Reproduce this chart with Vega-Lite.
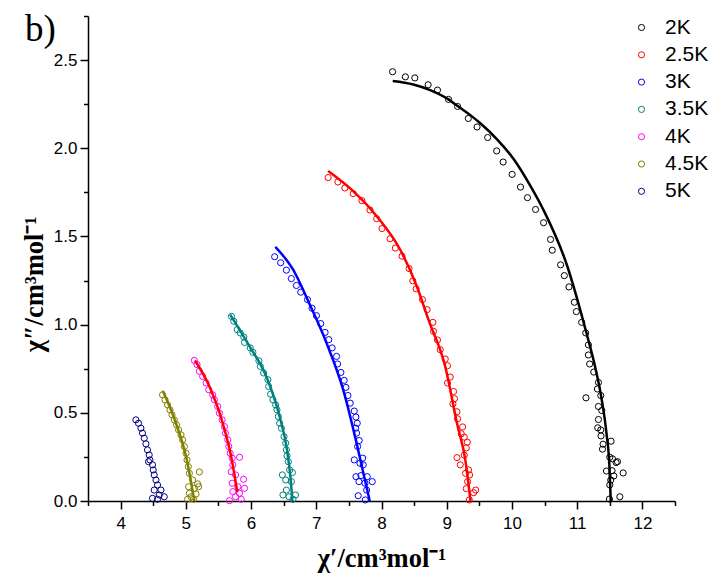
{
  "$schema": "https://vega.github.io/schema/vega-lite/v6.json",
  "width": 587,
  "height": 485,
  "autosize": {"type": "none"},
  "padding": {"left": 88, "top": 16, "right": 37, "bottom": 72},
  "background": "white",
  "config": {"view": {"stroke": null}},
  "title": {"text": "b)", "anchor": "start", "frame": "group", "font": "Liberation Serif", "fontSize": 37, "fontWeight": "normal", "color": "black", "dx": -63, "offset": 0, "baseline": "alphabetic", "dy": 63},
  "datasets": {
    "pts": [
      {"T":"2K","x":8.17,"y":2.434},{"T":"2K","x":8.366,"y":2.405},{"T":"2K","x":8.511,"y":2.399},{"T":"2K","x":8.715,"y":2.36},{"T":"2K","x":8.858,"y":2.33},{"T":"2K","x":9.028,"y":2.277},{"T":"2K","x":9.166,"y":2.237},{"T":"2K","x":9.331,"y":2.169},{"T":"2K","x":9.465,"y":2.121},{"T":"2K","x":9.628,"y":2.061},{"T":"2K","x":9.766,"y":1.985},{"T":"2K","x":9.865,"y":1.922},{"T":"2K","x":10.003,"y":1.852},{"T":"2K","x":10.131,"y":1.78},{"T":"2K","x":10.238,"y":1.72},{"T":"2K","x":10.362,"y":1.653},{"T":"2K","x":10.485,"y":1.578},{"T":"2K","x":10.592,"y":1.483},{"T":"2K","x":10.618,"y":1.422},{"T":"2K","x":10.746,"y":1.339},{"T":"2K","x":10.803,"y":1.278},{"T":"2K","x":10.874,"y":1.214},{"T":"2K","x":10.957,"y":1.127},{"T":"2K","x":10.988,"y":1.074},{"T":"2K","x":11.069,"y":1.013},{"T":"2K","x":11.131,"y":0.953},{"T":"2K","x":11.172,"y":0.885},{"T":"2K","x":11.172,"y":0.828},{"T":"2K","x":11.192,"y":0.777},{"T":"2K","x":11.254,"y":0.731},{"T":"2K","x":11.326,"y":0.672},{"T":"2K","x":11.311,"y":0.635},{"T":"2K","x":11.362,"y":0.598},{"T":"2K","x":11.135,"y":0.585},{"T":"2K","x":11.326,"y":0.536},{"T":"2K","x":11.377,"y":0.513},{"T":"2K","x":11.326,"y":0.462},{"T":"2K","x":11.315,"y":0.415},{"T":"2K","x":11.362,"y":0.403},{"T":"2K","x":11.366,"y":0.369},{"T":"2K","x":11.397,"y":0.322},{"T":"2K","x":11.388,"y":0.294},{"T":"2K","x":11.52,"y":0.339},{"T":"2K","x":11.5,"y":0.248},{"T":"2K","x":11.542,"y":0.239},{"T":"2K","x":11.618,"y":0.223},{"T":"2K","x":11.597,"y":0.218},{"T":"2K","x":11.449,"y":0.17},{"T":"2K","x":11.535,"y":0.172},{"T":"2K","x":11.562,"y":0.142},{"T":"2K","x":11.705,"y":0.159},{"T":"2K","x":11.515,"y":0.119},{"T":"2K","x":11.5,"y":0.091},{"T":"2K","x":11.495,"y":0.011},{"T":"2K","x":11.654,"y":0.024},
      {"T":"2.5K","x":7.182,"y":1.834},{"T":"2.5K","x":7.331,"y":1.809},{"T":"2.5K","x":7.438,"y":1.775},{"T":"2.5K","x":7.566,"y":1.743},{"T":"2.5K","x":7.7,"y":1.703},{"T":"2.5K","x":7.823,"y":1.65},{"T":"2.5K","x":7.926,"y":1.601},{"T":"2.5K","x":8.008,"y":1.545},{"T":"2.5K","x":8.131,"y":1.487},{"T":"2.5K","x":8.212,"y":1.434},{"T":"2.5K","x":8.315,"y":1.388},{"T":"2.5K","x":8.423,"y":1.318},{"T":"2.5K","x":8.48,"y":1.248},{"T":"2.5K","x":8.531,"y":1.203},{"T":"2.5K","x":8.628,"y":1.142},{"T":"2.5K","x":8.7,"y":1.085},{"T":"2.5K","x":8.788,"y":1.013},{"T":"2.5K","x":8.797,"y":0.962},{"T":"2.5K","x":8.858,"y":0.913},{"T":"2.5K","x":8.9,"y":0.858},{"T":"2.5K","x":8.977,"y":0.805},{"T":"2.5K","x":9.012,"y":0.767},{"T":"2.5K","x":9.054,"y":0.703},{"T":"2.5K","x":9.012,"y":0.669},{"T":"2.5K","x":9.105,"y":0.621},{"T":"2.5K","x":9.12,"y":0.58},{"T":"2.5K","x":9.095,"y":0.551},{"T":"2.5K","x":9.157,"y":0.506},{"T":"2.5K","x":9.166,"y":0.466},{"T":"2.5K","x":9.243,"y":0.42},{"T":"2.5K","x":9.223,"y":0.381},{"T":"2.5K","x":9.269,"y":0.362},{"T":"2.5K","x":9.315,"y":0.334},{"T":"2.5K","x":9.3,"y":0.301},{"T":"2.5K","x":9.269,"y":0.26},{"T":"2.5K","x":9.157,"y":0.246},{"T":"2.5K","x":9.208,"y":0.205},{"T":"2.5K","x":9.289,"y":0.157},{"T":"2.5K","x":9.335,"y":0.176},{"T":"2.5K","x":9.351,"y":0.148},{"T":"2.5K","x":9.32,"y":0.11},{"T":"2.5K","x":9.3,"y":0.07},{"T":"2.5K","x":9.412,"y":0.047},{"T":"2.5K","x":9.443,"y":0.062},{"T":"2.5K","x":9.346,"y":0.006},
      {"T":"3K","x":6.362,"y":1.385},{"T":"3K","x":6.454,"y":1.351},{"T":"3K","x":6.542,"y":1.309},{"T":"3K","x":6.618,"y":1.261},{"T":"3K","x":6.695,"y":1.222},{"T":"3K","x":6.762,"y":1.184},{"T":"3K","x":6.865,"y":1.142},{"T":"3K","x":6.935,"y":1.093},{"T":"3K","x":7.003,"y":1.051},{"T":"3K","x":7.069,"y":1.006},{"T":"3K","x":7.135,"y":0.956},{"T":"3K","x":7.192,"y":0.915},{"T":"3K","x":7.243,"y":0.868},{"T":"3K","x":7.311,"y":0.82},{"T":"3K","x":7.326,"y":0.777},{"T":"3K","x":7.377,"y":0.729},{"T":"3K","x":7.428,"y":0.684},{"T":"3K","x":7.454,"y":0.644},{"T":"3K","x":7.485,"y":0.598},{"T":"3K","x":7.52,"y":0.555},{"T":"3K","x":7.582,"y":0.51},{"T":"3K","x":7.608,"y":0.476},{"T":"3K","x":7.628,"y":0.441},{"T":"3K","x":7.603,"y":0.413},{"T":"3K","x":7.618,"y":0.385},{"T":"3K","x":7.658,"y":0.343},{"T":"3K","x":7.634,"y":0.309},{"T":"3K","x":7.582,"y":0.233},{"T":"3K","x":7.711,"y":0.243},{"T":"3K","x":7.669,"y":0.214},{"T":"3K","x":7.72,"y":0.205},{"T":"3K","x":7.608,"y":0.138},{"T":"3K","x":7.685,"y":0.144},{"T":"3K","x":7.782,"y":0.138},{"T":"3K","x":7.654,"y":0.11},{"T":"3K","x":7.746,"y":0.101},{"T":"3K","x":7.858,"y":0.11},{"T":"3K","x":7.772,"y":0.062},{"T":"3K","x":7.643,"y":0.03},{"T":"3K","x":7.751,"y":0.006},
      {"T":"3.5K","x":5.7,"y":1.047},{"T":"3.5K","x":5.735,"y":1.019},{"T":"3.5K","x":5.788,"y":0.972},{"T":"3.5K","x":5.834,"y":0.953},{"T":"3.5K","x":5.889,"y":0.93},{"T":"3.5K","x":5.9,"y":0.899},{"T":"3.5K","x":5.988,"y":0.868},{"T":"3.5K","x":6.028,"y":0.843},{"T":"3.5K","x":6.12,"y":0.795},{"T":"3.5K","x":6.142,"y":0.763},{"T":"3.5K","x":6.192,"y":0.726},{"T":"3.5K","x":6.258,"y":0.688},{"T":"3.5K","x":6.269,"y":0.649},{"T":"3.5K","x":6.3,"y":0.606},{"T":"3.5K","x":6.335,"y":0.574},{"T":"3.5K","x":6.377,"y":0.545},{"T":"3.5K","x":6.397,"y":0.517},{"T":"3.5K","x":6.418,"y":0.479},{"T":"3.5K","x":6.438,"y":0.441},{"T":"3.5K","x":6.465,"y":0.413},{"T":"3.5K","x":6.505,"y":0.365},{"T":"3.5K","x":6.531,"y":0.328},{"T":"3.5K","x":6.542,"y":0.29},{"T":"3.5K","x":6.551,"y":0.256},{"T":"3.5K","x":6.572,"y":0.223},{"T":"3.5K","x":6.48,"y":0.148},{"T":"3.5K","x":6.592,"y":0.176},{"T":"3.5K","x":6.634,"y":0.161},{"T":"3.5K","x":6.531,"y":0.119},{"T":"3.5K","x":6.618,"y":0.11},{"T":"3.5K","x":6.542,"y":0.062},{"T":"3.5K","x":6.489,"y":0.034},{"T":"3.5K","x":6.582,"y":0.024},{"T":"3.5K","x":6.68,"y":0.034},{"T":"3.5K","x":6.643,"y":0.01},
      {"T":"4K","x":5.131,"y":0.797},{"T":"4K","x":5.172,"y":0.773},{"T":"4K","x":5.208,"y":0.735},{"T":"4K","x":5.258,"y":0.706},{"T":"4K","x":5.311,"y":0.669},{"T":"4K","x":5.351,"y":0.631},{"T":"4K","x":5.412,"y":0.602},{"T":"4K","x":5.438,"y":0.574},{"T":"4K","x":5.489,"y":0.536},{"T":"4K","x":5.515,"y":0.498},{"T":"4K","x":5.557,"y":0.46},{"T":"4K","x":5.592,"y":0.422},{"T":"4K","x":5.608,"y":0.385},{"T":"4K","x":5.643,"y":0.347},{"T":"4K","x":5.658,"y":0.309},{"T":"4K","x":5.68,"y":0.271},{"T":"4K","x":5.711,"y":0.243},{"T":"4K","x":5.823,"y":0.248},{"T":"4K","x":5.72,"y":0.205},{"T":"4K","x":5.695,"y":0.166},{"T":"4K","x":5.762,"y":0.148},{"T":"4K","x":5.885,"y":0.123},{"T":"4K","x":5.711,"y":0.101},{"T":"4K","x":5.797,"y":0.081},{"T":"4K","x":5.9,"y":0.072},{"T":"4K","x":5.72,"y":0.053},{"T":"4K","x":5.823,"y":0.044},{"T":"4K","x":5.762,"y":0.024},{"T":"4K","x":5.849,"y":0.01},{"T":"4K","x":5.669,"y":0.002},
      {"T":"4.5K","x":4.643,"y":0.602},{"T":"4.5K","x":4.68,"y":0.574},{"T":"4.5K","x":4.72,"y":0.545},{"T":"4.5K","x":4.757,"y":0.517},{"T":"4.5K","x":4.788,"y":0.489},{"T":"4.5K","x":4.823,"y":0.46},{"T":"4.5K","x":4.858,"y":0.432},{"T":"4.5K","x":4.889,"y":0.403},{"T":"4.5K","x":4.926,"y":0.375},{"T":"4.5K","x":4.951,"y":0.347},{"T":"4.5K","x":4.977,"y":0.309},{"T":"4.5K","x":5.003,"y":0.271},{"T":"4.5K","x":5.018,"y":0.233},{"T":"4.5K","x":5.038,"y":0.195},{"T":"4.5K","x":5.208,"y":0.165},{"T":"4.5K","x":5.054,"y":0.157},{"T":"4.5K","x":5.105,"y":0.119},{"T":"4.5K","x":5.182,"y":0.097},{"T":"4.5K","x":5.043,"y":0.081},{"T":"4.5K","x":5.131,"y":0.072},{"T":"4.5K","x":5.197,"y":0.081},{"T":"4.5K","x":5.054,"y":0.044},{"T":"4.5K","x":5.157,"y":0.04},{"T":"4.5K","x":5.08,"y":0.024},{"T":"4.5K","x":5.12,"y":0.01},{"T":"4.5K","x":5.028,"y":0.01},
      {"T":"5K","x":4.234,"y":0.46},{"T":"5K","x":4.274,"y":0.441},{"T":"5K","x":4.311,"y":0.413},{"T":"5K","x":4.335,"y":0.385},{"T":"5K","x":4.362,"y":0.356},{"T":"5K","x":4.388,"y":0.324},{"T":"5K","x":4.412,"y":0.29},{"T":"5K","x":4.438,"y":0.261},{"T":"5K","x":4.449,"y":0.233},{"T":"5K","x":4.428,"y":0.223},{"T":"5K","x":4.489,"y":0.205},{"T":"5K","x":4.5,"y":0.176},{"T":"5K","x":4.515,"y":0.148},{"T":"5K","x":4.542,"y":0.119},{"T":"5K","x":4.566,"y":0.091},{"T":"5K","x":4.515,"y":0.062},{"T":"5K","x":4.618,"y":0.062},{"T":"5K","x":4.592,"y":0.034},{"T":"5K","x":4.489,"y":0.015},{"T":"5K","x":4.669,"y":0.024},{"T":"5K","x":4.566,"y":0.01}
    ],
    "fits": [
      {"T":"2K","x":8.172,"y":2.382},{"T":"2K","x":8.489,"y":2.362},{"T":"2K","x":8.746,"y":2.33},{"T":"2K","x":9.028,"y":2.277},{"T":"2K","x":9.166,"y":2.24},{"T":"2K","x":9.362,"y":2.188},{"T":"2K","x":9.515,"y":2.142},{"T":"2K","x":9.772,"y":2.051},{"T":"2K","x":10.028,"y":1.938},{"T":"2K","x":10.285,"y":1.786},{"T":"2K","x":10.48,"y":1.653},{"T":"2K","x":10.849,"y":1.331},{"T":"2K","x":11.003,"y":1.142},{"T":"2K","x":11.142,"y":0.953},{"T":"2K","x":11.274,"y":0.763},{"T":"2K","x":11.377,"y":0.574},{"T":"2K","x":11.449,"y":0.385},{"T":"2K","x":11.495,"y":0.195},{"T":"2K","x":11.515,"y":0.0},
      {"T":"2.5K","x":7.182,"y":1.871},{"T":"2.5K","x":7.566,"y":1.757},{"T":"2.5K","x":7.926,"y":1.615},{"T":"2.5K","x":8.285,"y":1.426},{"T":"2.5K","x":8.541,"y":1.218},{"T":"2.5K","x":8.72,"y":1.028},{"T":"2.5K","x":8.977,"y":0.763},{"T":"2.5K","x":9.157,"y":0.441},{"T":"2.5K","x":9.285,"y":0.233},{"T":"2.5K","x":9.365,"y":0.0},
      {"T":"3K","x":6.372,"y":1.441},{"T":"3K","x":6.643,"y":1.313},{"T":"3K","x":6.9,"y":1.114},{"T":"3K","x":7.157,"y":0.896},{"T":"3K","x":7.412,"y":0.631},{"T":"3K","x":7.618,"y":0.328},{"T":"3K","x":7.746,"y":0.119},{"T":"3K","x":7.82,"y":0.0},
      {"T":"3.5K","x":5.68,"y":1.057},{"T":"3.5K","x":5.977,"y":0.877},{"T":"3.5K","x":6.234,"y":0.706},{"T":"3.5K","x":6.438,"y":0.479},{"T":"3.5K","x":6.551,"y":0.29},{"T":"3.5K","x":6.603,"y":0.138},{"T":"3.5K","x":6.634,"y":0.0},
      {"T":"4K","x":5.141,"y":0.797},{"T":"4K","x":5.362,"y":0.649},{"T":"4K","x":5.566,"y":0.441},{"T":"4K","x":5.695,"y":0.252},{"T":"4K","x":5.79,"y":0.05},
      {"T":"4.5K","x":4.646,"y":0.625},{"T":"4.5K","x":4.849,"y":0.441},{"T":"4.5K","x":5.003,"y":0.252},{"T":"4.5K","x":5.131,"y":0.0}
    ]
  },
  "layer": [
    {
      "data": {"name": "pts"},
      "mark": {"type": "point", "shape": "circle", "filled": false, "size": 38, "strokeWidth": 1, "opacity": 1, "clip": false},
      "encoding": {
        "x": {"field": "x", "type": "quantitative", "scale": {"domain": [3.5, 12.5], "nice": false, "zero": false},
          "axis": {"orient": "bottom", "values": [4,5,6,7,8,9,10,11,12], "format": "d", "tickSize": 8, "tickWidth": 1.5, "tickColor": "black", "domainColor": "black", "domainWidth": 1.5, "grid": false, "labelFont": "Liberation Sans", "labelFontSize": 17, "labelColor": "black", "labelPadding": 6,
            "title": "χ′/cm³mol⁻¹", "titleFont": "Liberation Serif", "titleFontSize": 26.5, "titleFontWeight": "bold", "titleColor": "black", "titleY": 65, "titleBaseline": "alphabetic"}},
        "y": {"field": "y", "type": "quantitative", "scale": {"domain": [0, 2.75], "nice": false},
          "axis": {"orient": "left", "values": [0,0.5,1,1.5,2,2.5], "format": ".1f", "tickSize": 8, "tickWidth": 1.5, "tickColor": "black", "domainColor": "black", "domainWidth": 1.5, "grid": false, "labelFont": "Liberation Sans", "labelFontSize": 17, "labelColor": "black", "labelPadding": 3,
            "title": "χ″/cm³mol⁻¹", "titleFont": "Liberation Serif", "titleFontSize": 26.5, "titleFontWeight": "bold", "titleColor": "black", "titleX": -46, "titleY": 268, "titleAngle": 270, "titleAlign": "center", "titleBaseline": "alphabetic"}},
        "color": {"field": "T", "type": "nominal",
          "scale": {"domain": ["2K","2.5K","3K","3.5K","4K","4.5K","5K"], "range": ["#000000","#FF0000","#0000FF","#008080","#FF00FF","#808000","#000080"]},
          "legend": {"title": null, "orient": "none", "legendX": 543, "legendY": 1, "padding": 0, "symbolType": "circle", "symbolSize": 38, "symbolStrokeWidth": 1, "symbolFillColor": "transparent", "labelFont": "Liberation Sans", "labelFontSize": 21, "labelColor": "black", "labelOffset": 13, "rowPadding": 5.3}}
      }
    },
    {
      "data": {"name": "fits"},
      "mark": {"type": "line", "strokeWidth": 2.5, "interpolate": "monotone", "clip": false},
      "encoding": {
        "x": {"field": "x", "type": "quantitative",
          "axis": {"orient": "bottom", "values": [3.5,4.5,5.5,6.5,7.5,8.5,9.5,10.5,11.5,12.5], "labels": false, "domain": false, "grid": false, "tickSize": 4.5, "tickWidth": 1.5, "tickColor": "black", "title": null}},
        "y": {"field": "y", "type": "quantitative",
          "axis": {"orient": "left", "values": [0.25,0.75,1.25,1.75,2.25,2.75], "labels": false, "domain": false, "grid": false, "tickSize": 4.5, "tickWidth": 1.5, "tickColor": "black", "title": null}},
        "color": {"field": "T", "type": "nominal",
          "scale": {"domain": ["2K","2.5K","3K","3.5K","4K","4.5K"], "range": ["#000000","#FF0000","#0000FF","#008080","#FF0000","#808000"]},
          "legend": null},
        "order": {"field": "x", "type": "quantitative"}
      }
    }
  ],
  "resolve": {"scale": {"color": "independent"}, "axis": {"x": "independent", "y": "independent"}}
}
